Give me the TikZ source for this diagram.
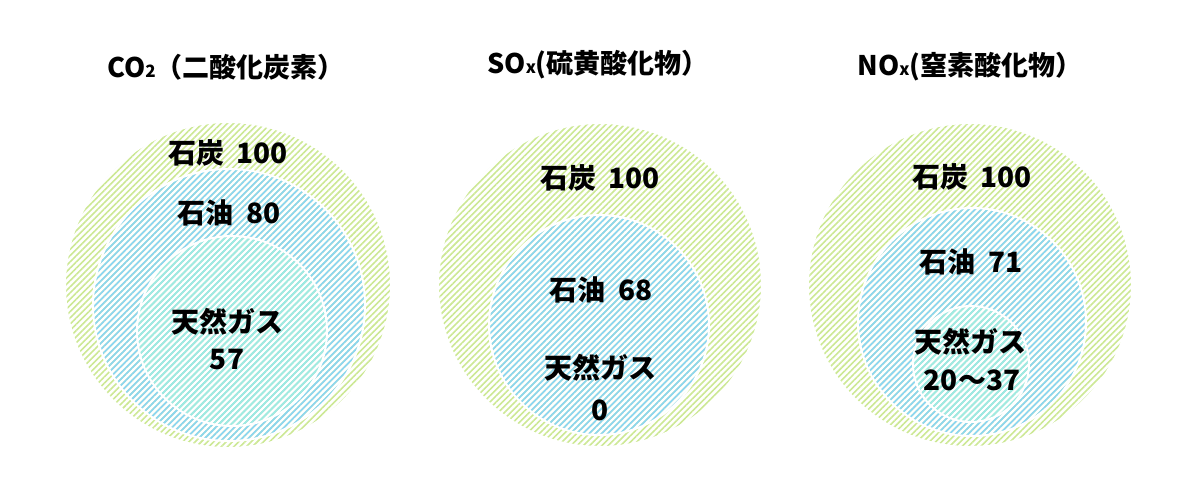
\documentclass[tikz,border=0pt]{standalone}
\usepackage{fontspec}
\setmainfont{Noto Sans CJK JP}
\usetikzlibrary{positioning,patterns.meta}
\definecolor{coalgreen}{RGB}{204,232,148}
\definecolor{oilblue}{RGB}{138,213,244}
\definecolor{oilbase}{RGB}{228,246,253}
\definecolor{gasteal}{RGB}{160,236,226}
\definecolor{gasbase}{RGB}{214,247,242}
\tikzstyle{ring} = [circle,
                    inner sep=0pt,
                    draw=white,
                    line width=1pt]
\tikzstyle{coal} = [ring,
                    fill=white,
                    pattern={Lines[angle=45,distance=2.2pt,line width=0.8pt]},
                    pattern color=coalgreen]
\tikzstyle{oil} = [ring,
                   fill=oilbase,
                   pattern={Lines[angle=45,distance=2.2pt,line width=0.8pt]},
                   pattern color=oilblue]
\tikzstyle{gas} = [ring,
                   fill=gasbase,
                   pattern={Lines[angle=45,distance=2.2pt,line width=0.8pt]},
                   pattern color=gasteal]
\tikzstyle{amount} = [inner sep=0pt,
                      font=\bfseries\fontsize{14}{16}\selectfont]
\tikzstyle{heading} = [inner sep=0pt,
                       font=\bfseries\fontsize{13.5}{16}\selectfont]
\tikzstyle{chart} = [x=0.5pt,
                     y=-0.5pt]
\newcommand{\lowsub}[1]{{\fontsize{8.5}{9}\selectfont #1}}
\newcommand{\gap}{\hspace{0.45em}}

\begin{document}
\begin{tikzpicture}[chart]
    \useasboundingbox (0,0) rectangle (1200,500);
    % CO2
    \node (t1) [heading] at (226,67) {CO\lowsub{2}（二酸化炭素）};
    \node (coal1) [coal, minimum size=163pt] at (228,285) {};
    \node (oil1) [oil, minimum size=136pt] at (229,305) {};
    \node (gas1) [gas, minimum size=95pt] at (232,331) {};
    \node (a1) [amount] at (228,153) {石炭\gap100};
    \node (b1) [amount] at (229,213) {石油\gap80};
    \node (c1) [amount] at (227,322) {天然ガス};
    \node (d1) [amount] at (227,360) {57};
    % SOx
    \node (t2) [heading] at (598,65) {SO\lowsub{x}(硫黄酸化物）};
    \node (coal2) [coal, minimum size=162pt] at (600,285) {};
    \node (oil2) [oil, minimum size=110pt] at (599,325) {};
    \node (a2) [amount] at (600,178) {石炭\gap100};
    \node (b2) [amount] at (601,290) {石油\gap68};
    \node (c2) [amount] at (600,368) {天然ガス};
    \node (d2) [amount] at (600,410) {0};
    % NOx
    \node (t3) [heading] at (970,67) {NO\lowsub{x}(窒素酸化物）};
    \node (coal3) [coal, minimum size=162pt] at (970,285) {};
    \node (oil3) [oil, minimum size=114pt] at (972,322) {};
    \node (gas3) [gas, minimum size=58pt] at (971,364) {};
    \node (a3) [amount] at (972,177) {石炭\gap100};
    \node (b3) [amount] at (971,262) {石油\gap71};
    \node (c3) [amount] at (970,342) {天然ガス};
    \node (d3) [amount] at (972,380) {20〜37};
\end{tikzpicture}
\end{document}
